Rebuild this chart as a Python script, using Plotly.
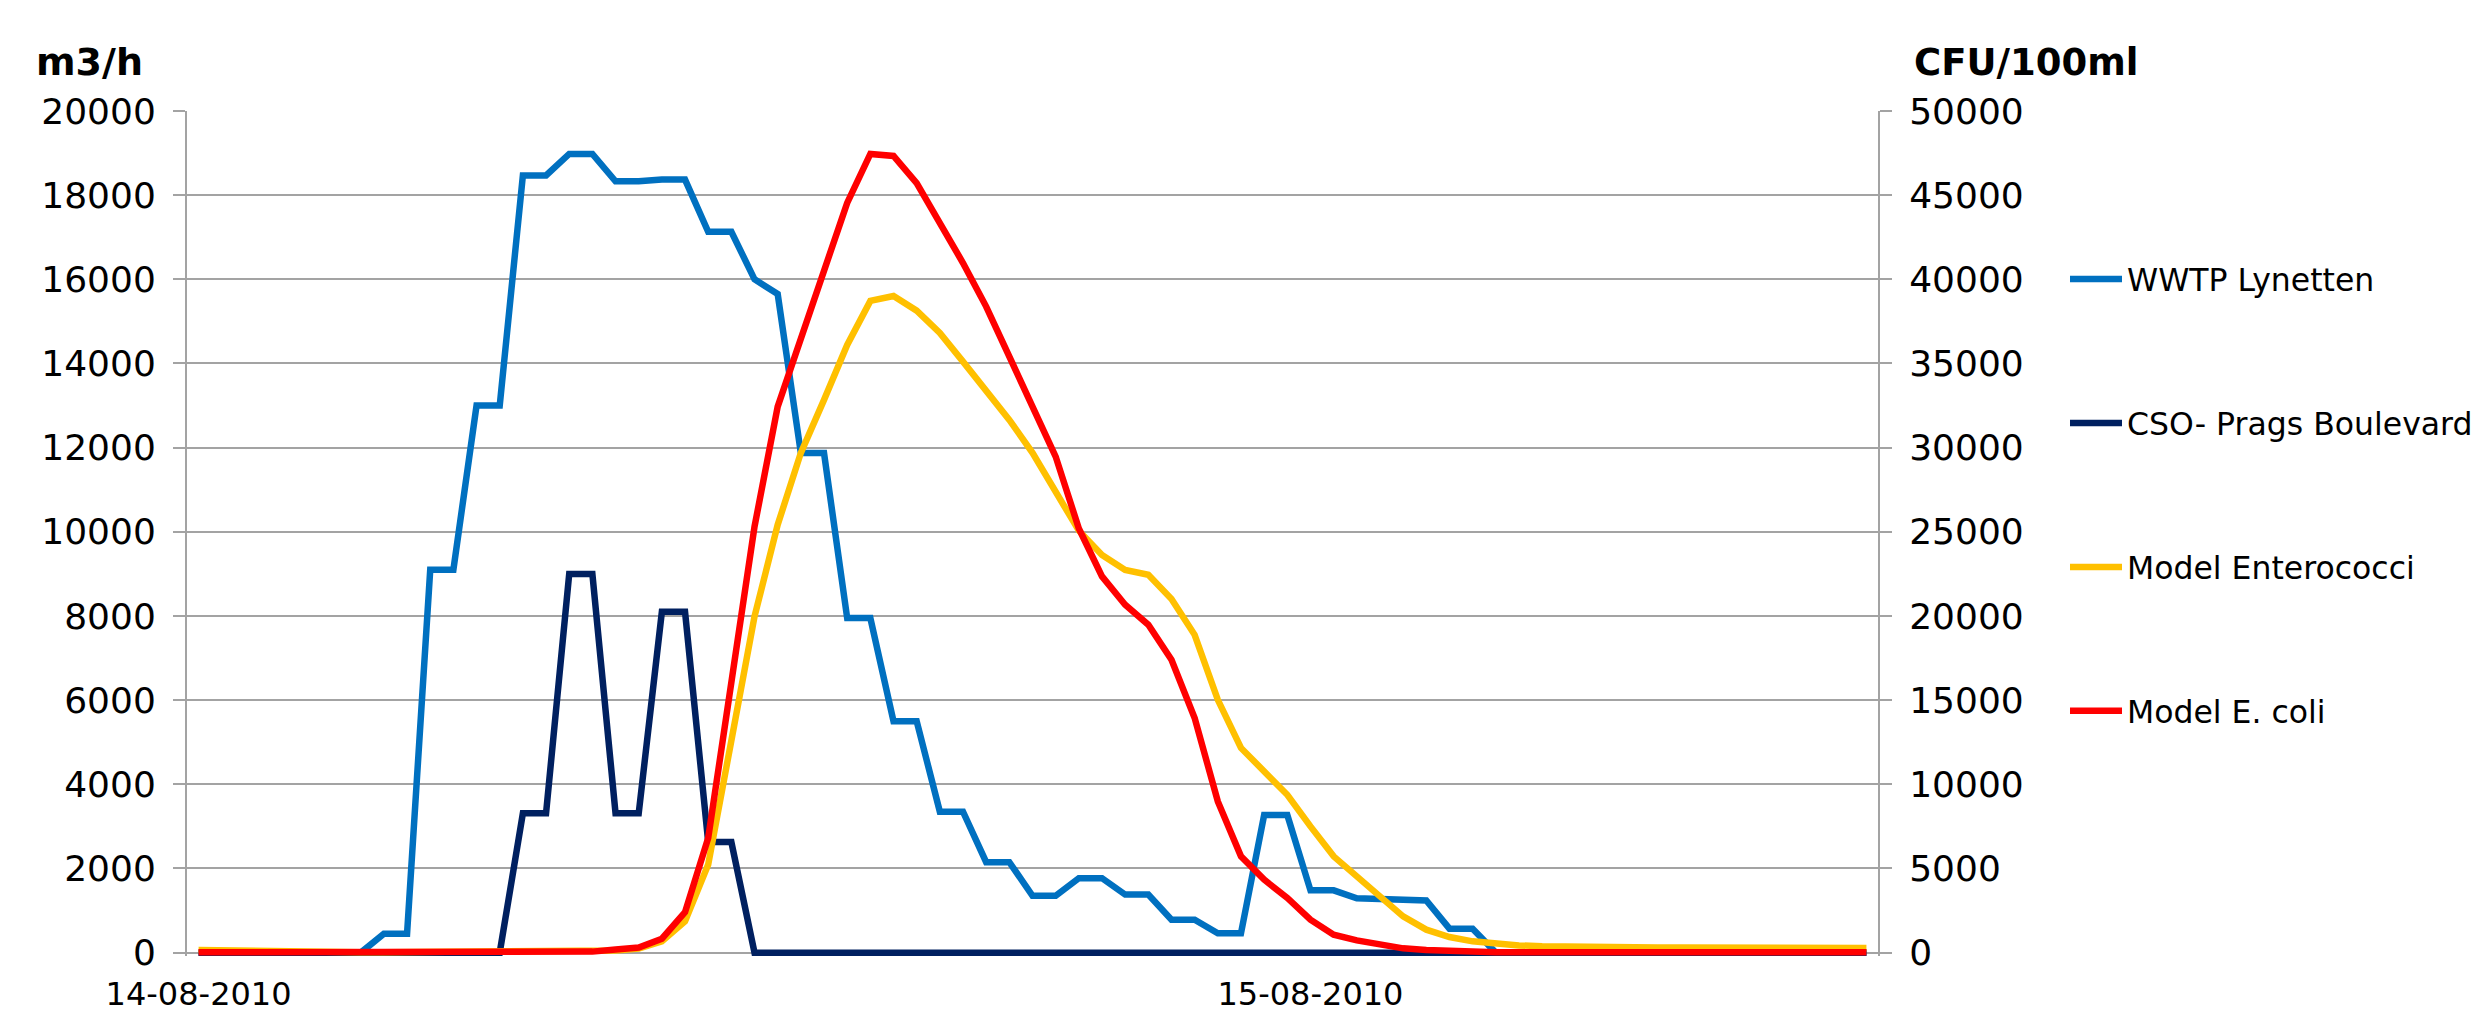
import pandas as pd
import plotly.graph_objects as go

# Half-hourly series, 14-08-2010 00:00 to 15-08-2010 12:00
start = "2010-08-14 00:00"
n_points = 73

wwtp_lynetten = [
    0, 0, 0, 0, 0, 0, 0, 0, 450, 450,
    9100, 9100, 13000, 13000, 18470, 18470, 18980, 18980, 18330, 18330,
    18370, 18370, 17130, 17130, 16000, 15650, 11870, 11870, 7950, 7950,
    5500, 5500, 3350, 3350, 2150, 2150, 1350, 1350, 1770, 1770,
    1380, 1380, 780, 780, 460, 460, 3270, 3270, 1480, 1480,
    1290, 1270, 1240, 1240, 570, 570, 0, 0, 0, 0,
    0, 0, 0, 0, 0, 0, 0, 0, 0, 0,
    0, 0, 0,
]

cso_prags_boulevard = [
    0, 0, 0, 0, 0, 0, 0, 0, 0, 0,
    0, 0, 0, 0, 3310, 3310, 9000, 9000, 3310, 3310,
    8100, 8100, 2630, 2630, 0, 0, 0, 0, 0, 0,
    0, 0, 0, 0, 0, 0, 0, 0, 0, 0,
    0, 0, 0, 0, 0, 0, 0, 0, 0, 0,
    0, 0, 0, 0, 0, 0, 0, 0, 0, 0,
    0, 0, 0, 0, 0, 0, 0, 0, 0, 0,
    0, 0, 0,
]

model_enterococci = [
    150, 120, 90, 70, 50, 40, 30, 30, 30, 30,
    30, 30, 30, 30, 30, 30, 40, 60, 120, 250,
    670, 1860, 5230, 12600, 19970, 25420, 29690, 32840, 36100, 38720,
    39010, 38140, 36820, 35110, 33430, 31650, 29690, 27430, 25070, 23630,
    22740, 22450, 21010, 18880, 15020, 12160, 10770, 9380, 7500, 5720,
    4530, 3340, 2155, 1365, 930, 670, 520, 430, 380, 350,
    330, 320, 310, 300, 300, 300, 290, 290, 290, 280,
    280, 280, 280,
]

model_e_coli = [
    20, 20, 20, 20, 20, 20, 20, 20, 20, 20,
    20, 20, 20, 20, 20, 20, 30, 60, 180, 300,
    830, 2400, 6810, 16050, 25310, 32440, 36400, 40380, 44540, 47450,
    47330, 45720, 43430, 40970, 38380, 35410, 32660, 29470, 25200, 22350,
    20670, 19480, 17400, 13940, 8985, 5720, 4335, 3250, 1960, 1070,
    730, 475, 255, 150, 80, 50, 30, 20, 20, 20,
    20, 20, 20, 20, 20, 20, 20, 20, 20, 20,
    20, 20, 20,
]

date_ticks = ["2010-08-14", "2010-08-15"]
date_tick_text = ["14-08-2010", "15-08-2010"]

times = pd.date_range(start, periods=n_points, freq="30min")
half_step = pd.Timedelta(minutes=15)
x_range = [times[0] - half_step, times[-1] + half_step]
# category boundaries where the date ticks sit
boundary_ticks = [pd.Timestamp(d) - half_step for d in date_ticks]

FONT = "DejaVu Sans, Verdana, sans-serif"
GRID = "#a3a3a3"

W, H = 2487, 1016
M_L, M_R, M_T, M_B = 187, 609, 111, 60
plot_w = W - M_L - M_R
plot_h = H - M_T - M_B


def px_x(p):
    return (p - M_L) / plot_w


def px_y(p):
    return (H - M_B - p) / plot_h


fig = go.Figure()
series = [
    ("WWTP Lynetten", wwtp_lynetten, "#0070C0", "y"),
    ("CSO- Prags Boulevard", cso_prags_boulevard, "#002060", "y"),
    ("Model Enterococci", model_enterococci, "#FFC000", "y2"),
    ("Model E. coli", model_e_coli, "#FF0000", "y2"),
]
for i, (name, vals, color, yax) in enumerate(series):
    fig.add_trace(go.Scatter(
        x=times, y=vals, name=name, mode="lines", yaxis=yax,
        legendgroup=f"g{i}",
        line=dict(color=color, width=6.5),
    ))

fig.update_layout(
    width=W, height=H,
    margin=dict(l=M_L, r=M_R, t=M_T, b=M_B, pad=0, autoexpand=False),
    paper_bgcolor="white", plot_bgcolor="white",
    font=dict(family=FONT, color="black"),
    showlegend=True,
    legend=dict(
        x=px_x(2065), y=px_y(252), xanchor="left", yanchor="top",
        font=dict(size=31.5, family=FONT),
        itemwidth=52,
        tracegroupgap=100, bgcolor="rgba(0,0,0,0)",
    ),
    xaxis=dict(
        type="date", range=x_range, automargin=False,
        tickvals=date_ticks, ticktext=date_tick_text,
        ticks="", showgrid=False, showline=False, zeroline=False,
        tickfont=dict(size=32, family=FONT),
        ticklabelstandoff=16,
    ),
    xaxis2=dict(
        type="date", range=x_range, overlaying="x", anchor="y", side="bottom",
        automargin=False,
        tickvals=boundary_ticks, ticks="outside", ticklen=10, tickwidth=2,
        tickcolor=GRID, showticklabels=False, showgrid=False,
        showline=False, zeroline=False,
    ),
    yaxis=dict(
        range=[-80, 20000], tick0=0, dtick=2000, tickformat="d",
        automargin=False,
        showgrid=True, gridcolor=GRID, gridwidth=2,
        zeroline=True, zerolinecolor=GRID, zerolinewidth=2,
        showline=True, linecolor=GRID, linewidth=2,
        ticks="outside", ticklen=12, tickwidth=2, tickcolor=GRID,
        tickfont=dict(size=36, family=FONT),
        ticklabelstandoff=10,
    ),
    yaxis2=dict(
        range=[-200, 50000], tick0=0, dtick=5000, tickformat="d",
        overlaying="y", side="right", automargin=False,
        showgrid=False, zeroline=False,
        showline=True, linecolor=GRID, linewidth=2,
        ticks="outside", ticklen=12, tickwidth=2, tickcolor=GRID,
        tickfont=dict(size=36, family=FONT),
        ticklabelstandoff=10,
    ),
    annotations=[
        dict(text="<b>m3/h</b>", xref="paper", yref="paper",
             x=px_x(34), y=px_y(62), xanchor="left", yanchor="middle",
             showarrow=False, font=dict(size=38, family=FONT)),
        dict(text="<b>CFU/100ml</b>", xref="paper", yref="paper",
             x=px_x(1912), y=px_y(62), xanchor="left", yanchor="middle",
             showarrow=False, font=dict(size=37, family=FONT)),
    ],
)

fig.write_html("out.html")
